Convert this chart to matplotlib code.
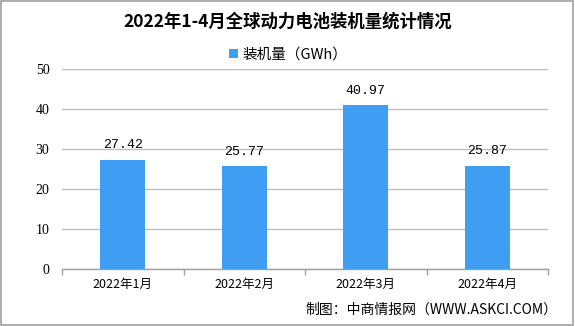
import matplotlib
matplotlib.use("Agg")
import matplotlib.pyplot as plt
from matplotlib.patches import Rectangle

plt.rcParams['font.family'] = ['Noto Sans CJK SC', 'DejaVu Sans']

categories = ["2022年1月", "2022年2月", "2022年3月", "2022年4月"]
values = [27.42, 25.77, 40.97, 25.87]
yticks = [0, 10, 20, 30, 40, 50]
series_name = "装机量（GWh）"
title = "2022年1-4月全球动力电池装机量统计情况"
source = "制图：中商情报网（WWW.ASKCI.COM）"

W, H = 575, 326
fig = plt.figure(figsize=(W / 100, H / 100), dpi=100)
fig.patch.set_facecolor("white")

ax = fig.add_axes([62 / W, 1 - 269.3 / H, (548 - 62) / W, (269.3 - 69.3) / H])
x = list(range(len(categories)))
bars = ax.bar(x, values, width=0.37, color="#3f9ef2", zorder=3, label=series_name)
ax.set_xlim(-0.5, len(categories) - 0.5)
ax.set_ylim(0, 50)
ax.set_yticks(yticks)
ax.set_yticklabels([str(t) for t in yticks], fontsize=10, family=['Liberation Serif', 'DejaVu Serif'])
ax.yaxis.grid(True, color="#bfbfbf", linewidth=1, zorder=0)
ax.tick_params(axis='y', length=0, pad=9)
ax.set_xticks(x)
ax.set_xticklabels(categories, fontsize=9)
ax.tick_params(axis='x', length=0, pad=6)
ax.set_xticks([i - 0.5 for i in range(len(categories) + 1)], minor=True)
ax.tick_params(axis='x', which='minor', length=4, color="#a0a0a0", width=1)
for s in ["top", "right", "left"]:
    ax.spines[s].set_visible(False)
ax.spines["bottom"].set_color("#a0a0a0")
ax.spines["bottom"].set_linewidth(1)

for xi, v in zip(x, values):
    ax.annotate(f"{v:.2f}", (xi, v), xytext=(0, 6), textcoords="offset points",
                ha="center", va="bottom", fontsize=9.5, family=['Liberation Mono', 'DejaVu Sans Mono'])

fig.text(288 / W, 1 - 22 / H, title, ha="center", va="center", fontsize=12.5, fontweight="bold")

leg = fig.legend(handles=[bars], labels=[series_name], loc="center",
                 bbox_to_anchor=(288 / W, 1 - 55 / H), frameon=False, fontsize=10.5,
                 handlelength=0.6, handleheight=0.6, handletextpad=0.3)

fig.text(557 / W, 1 - 310 / H, source, ha="right", va="center", fontsize=10)

fig.patches.append(Rectangle((0.5 / W, 1.5 / H), (W - 3) / W, (H - 2.5) / H, transform=fig.transFigure,
                             fill=False, edgecolor="#a0a0a0", linewidth=1.2))

fig.savefig("out.png", dpi=100)
